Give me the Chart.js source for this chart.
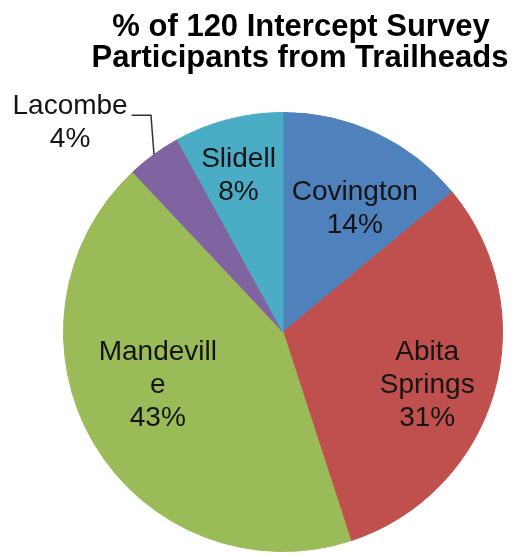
<!DOCTYPE html>
<html>
<head>
<meta charset="utf-8">
<script src="https://cdn.jsdelivr.net/npm/chart.js@4.4.1/dist/chart.umd.min.js"></script>
<style>
  html, body { margin: 0; padding: 0; background: #fff; }
  #wrap { width: 519px; height: 556px; }
</style>
</head>
<body>
<div id="wrap"><canvas id="trailheadPie" width="519" height="556"></canvas></div>
<script>
const titleLines = ['% of 120 Intercept Survey', 'Participants from Trailheads'];
const trailheads = ['Covington', 'Abita Springs', 'Mandeville', 'Lacombe', 'Slidell'];
const sharePct = [14, 31, 43, 4, 8];
// label text split the way the original wrapped it
const labelLines = [['Covington'], ['Abita', 'Springs'], ['Mandevill', 'e'], ['Lacombe'], ['Slidell']];
const sliceColors = ['#4F81BD', '#C0504D', '#9BBB59', '#8064A2', '#4BACC6'];

const FONT = '"Liberation Sans", Arial, sans-serif';

// where each label sits: fraction of radius + angle nudge (deg) from slice middle
const labelPlacement = [
    { r: 0.65, nudge: 5, leader: false },
    { r: 0.70, nudge: 4, leader: false },
    { r: 0.62, nudge: 7.5, leader: false },
    { r: 1.36, nudge: -9.5, leader: true },
    { r: 0.74, nudge: -1.5, leader: false }
];

const titlePlugin = {
    id: 'excelTitle',
    afterDraw(chart) {
        const ctx = chart.ctx;
        ctx.save();
        ctx.fillStyle = '#000';
        ctx.font = 'bold 31px ' + FONT;
        ctx.textAlign = 'center';
        ctx.textBaseline = 'alphabetic';
        ctx.fillText(titleLines[0], 301, 36);
        ctx.fillText(titleLines[1], 300, 67);
        ctx.restore();
    }
};

const sliceLabels = {
    id: 'sliceLabels',
    afterDatasetsDraw(chart) {
        const ctx = chart.ctx;
        const meta = chart.getDatasetMeta(0);
        const lineH = 33;
        ctx.save();
        ctx.font = '28px ' + FONT;
        ctx.fillStyle = '#141414';
        ctx.textAlign = 'center';
        ctx.textBaseline = 'middle';

        meta.data.forEach((arc, i) => {
            const p = arc.getProps(['x', 'y', 'startAngle', 'endAngle', 'outerRadius'], true);
            const place = labelPlacement[i];
            const mid = (p.startAngle + p.endAngle) / 2;
            const ang = mid + place.nudge * Math.PI / 180;
            const cx = p.x + Math.cos(ang) * p.outerRadius * place.r;
            const cy = p.y + Math.sin(ang) * p.outerRadius * place.r;

            const lines = labelLines[i].concat([sharePct[i] + '%']);
            const top = cy - (lines.length - 1) * lineH / 2;
            lines.forEach((txt, k) => ctx.fillText(txt, cx, top + k * lineH));

            if (place.leader) {
                // elbow leader from slice edge up to the label
                const ex = p.x + Math.cos(mid) * p.outerRadius;
                const ey = p.y + Math.sin(mid) * p.outerRadius;
                const w = ctx.measureText(lines[0]).width;
                const ly = top + 9;
                ctx.strokeStyle = '#333';
                ctx.lineWidth = 1.5;
                ctx.beginPath();
                ctx.moveTo(ex, ey);
                ctx.lineTo(ex - 3, ly);
                ctx.lineTo(cx + w / 2 + 4, ly);
                ctx.stroke();
            }
        });
        ctx.restore();
    }
};

new Chart(document.getElementById('trailheadPie'), {
    type: 'pie',
    data: {
        labels: trailheads,
        datasets: [{
            data: sharePct,
            backgroundColor: sliceColors,
            borderColor: sliceColors,
            borderWidth: 1
        }]
    },
    options: {
        responsive: false,
        animation: false,
        layout: {
            padding: { top: 112, bottom: 4, left: 47, right: 0 }
        },
        plugins: {
            legend: { display: false },
            title: { display: false },
            tooltip: { enabled: false }
        }
    },
    plugins: [titlePlugin, sliceLabels]
});
</script>
</body>
</html>
